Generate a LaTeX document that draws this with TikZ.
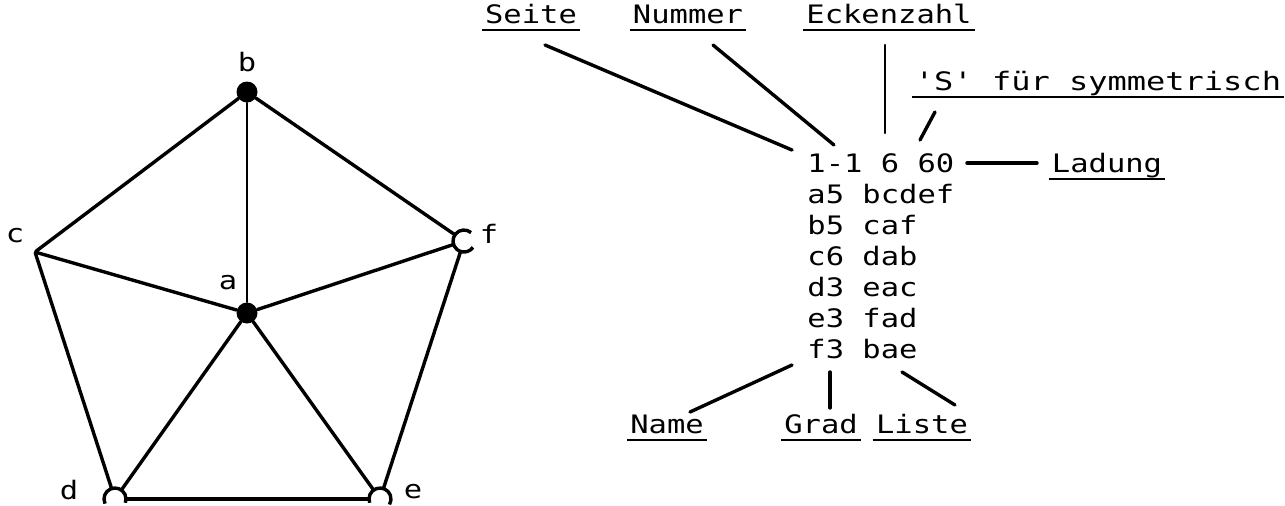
\documentclass[tikz,border=0pt]{standalone}
\usepackage{fontspec}
\setmonofont{DejaVu Sans Mono}[FakeStretch=1.2]
\newcommand{\twfont}{\ttfamily\fontsize{12.7}{15}\selectfont}
\begin{document}
\begin{tikzpicture}[x=0.5pt,y=-0.5pt,
  edge/.style={line width=1.7pt, line cap=round},
  vdot/.style={circle, fill=black, minimum size=10.5pt, inner sep=0pt},
  vpt/.style={circle, minimum size=0.5pt, inner sep=0pt},
  vopen/.style={circle, minimum size=11pt, inner sep=0pt},
  arcmark/.style={line width=1.7pt},
  vlbl/.style={font=\twfont, inner sep=0pt},
  row/.style={font=\twfont, inner sep=0pt, anchor=base west},
  lbl/.style={font=\twfont, inner sep=0pt, anchor=base},
  ul/.style={line width=1.3pt},
  lead/.style={line width=1.7pt, line cap=round}]
\useasboundingbox (0,0) rectangle (1285,505);

% ---------- graph ----------
\node[vdot] (a) at (247,313) {};
\node[vdot] (b) at (247,92) {};
\node[vpt]  (c) at (35,252) {};
\node[vopen] (f) at (464,241) {};
\node[vopen] (d) at (115,499) {};
\node[vopen] (e) at (380,499) {};

\draw[edge] (b) -- (c);
\draw[edge, line width=1.2pt] (b) -- (a);
\draw[edge] (b) -- (f);
\draw[edge] (c) -- (a);
\draw[edge] (a) -- (f);
\draw[edge] (c) -- (d);
\draw[edge] (a) -- (d);
\draw[edge] (a) -- (e);
\draw[edge] (f) -- (e);
\draw[edge, line width=2pt] (d) -- (e);

\begin{scope}[shift={(f)}, x=1pt, y=1pt]
  \draw[arcmark] (50:5.5) arc[start angle=50, end angle=325, radius=5.5];
\end{scope}
\begin{scope}[shift={(d)}, x=1pt, y=1pt]
  \draw[arcmark] (205:5.5) arc[start angle=205, end angle=-20, radius=5.5];
\end{scope}
\begin{scope}[shift={(e)}, x=1pt, y=1pt]
  \draw[arcmark] (200:5.5) arc[start angle=200, end angle=-30, radius=5.5];
\end{scope}

\node[vlbl] (la) at (228,283) {a};
\node[vlbl] (lb) at (247,62) {b};
\node[vlbl] (lc) at (15,236) {c};
\node[vlbl] (ld) at (69,490) {d};
\node[vlbl] (le) at (413,492) {e};
\node[vlbl] (lf) at (489,234) {f};

% ---------- code list ----------
\node[row] (r0) at (807,172) {1-1 6 60};
\node[row] (r1) at (807,203) {a5 bcdef};
\node[row] (r2) at (807,234) {b5 caf};
\node[row] (r3) at (807,265) {c6 dab};
\node[row] (r4) at (807,296) {d3 eac};
\node[row] (r5) at (807,327) {e3 fad};
\node[row] (r6) at (807,358) {f3 bae};

% ---------- labels ----------
\node[lbl] (seite) at (531,23) {Seite};
\node[lbl] (nummer) at (688,23) {Nummer};
\node[lbl] (ecken) at (889,23) {Eckenzahl};
\node[lbl] (symm) at (1098,90) {\scalebox{1.05}[1]{'S' für symmetrisch}};
\node[lbl] (ladung) at (1107,172) {Ladung};
\node[lbl] (name) at (667,433) {Name};
\node[lbl] (grad) at (821,433) {Grad};
\node[lbl] (liste) at (922,433) {Liste};

\foreach \n in {seite,nummer,ecken,symm,ladung,name,grad,liste}{
  \draw[ul] ([xshift=-1.5pt,yshift=-3.5pt]\n.base west) -- ([xshift=1.5pt,yshift=-3.5pt]\n.base east);
}

% ---------- leader lines ----------
\coordinate (seiteA) at (545,45);   \coordinate (seiteB) at (792,150);
\coordinate (nummerA) at (713,45);  \coordinate (nummerB) at (834,145);
\coordinate (eckenA) at (885,45);   \coordinate (eckenB) at (885,133);
\coordinate (symmA) at (935,112);   \coordinate (symmB) at (920,140);
\coordinate (ladA) at (967,163);    \coordinate (ladB) at (1037,163);
\coordinate (nameA) at (792,365);   \coordinate (nameB) at (690,412);
\coordinate (gradA) at (830,372);   \coordinate (gradB) at (830,408);
\coordinate (listeA) at (902,372);  \coordinate (listeB) at (955,405);

\draw[lead] (seiteA) -- (seiteB);
\draw[lead] (nummerA) -- (nummerB);
\draw[lead, line width=1.1pt] (eckenA) -- (eckenB);
\draw[lead] (symmA) -- (symmB);
\draw[lead] (ladA) -- (ladB);
\draw[lead] (nameA) -- (nameB);
\draw[lead] (gradA) -- (gradB);
\draw[lead] (listeA) -- (listeB);
\end{tikzpicture}
\end{document}
